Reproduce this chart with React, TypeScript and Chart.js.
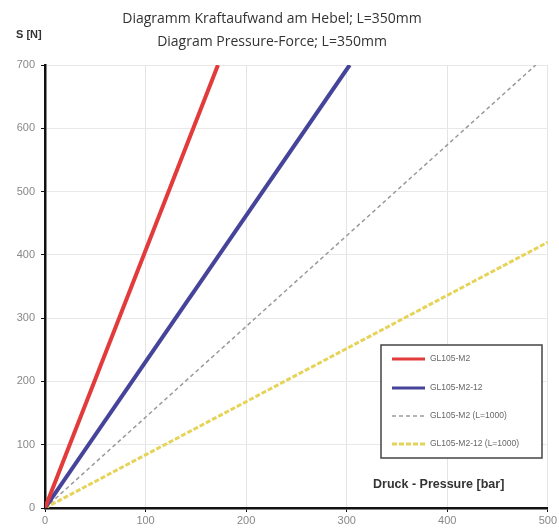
import React, { useEffect, useRef } from "react";
import { Chart, registerables } from "chart.js";

Chart.register(...registerables);

const titleLines = ["Diagramm Kraftaufwand am Hebel; L=350mm", "Diagram Pressure-Force; L=350mm"];
const yAxisTitle = "S [N]";
const xAxisTitle = "Druck - Pressure [bar]";
const seriesNames = ["GL105-M2", "GL105-M2-12", "GL105-M2 (L=1000)", "GL105-M2-12 (L=1000)"];
const redPoints = [{ x: 0, y: 0 }, { x: 172, y: 700 }];
const bluePoints = [{ x: 0, y: 0 }, { x: 303, y: 700 }];
const grayPoints = [{ x: 0, y: 0 }, { x: 488, y: 700 }];
const yellowPoints = [{ x: 0, y: 0 }, { x: 500, y: 420 }];
const xTicks = [0, 100, 200, 300, 400, 500];
const yTicks = [0, 100, 200, 300, 400, 500, 600, 700];

const overlay = {
  id: "overlay",
  afterDraw(chart: any) {
    const ctx = chart.ctx;
    ctx.save();
    ctx.fillStyle = "#333";
    ctx.textAlign = "center";
    ctx.textBaseline = "middle";
    ctx.font = "14px 'Open Sans'";
    ctx.fillText(titleLines[0], 272, 19);
    ctx.fillText(titleLines[1], 272, 42);
    ctx.textAlign = "left";
    ctx.font = "bold 11px 'Liberation Sans'";
    ctx.fillText(yAxisTitle, 16, 35);
    ctx.font = "bold 12.5px 'Liberation Sans'";
    ctx.fillText(xAxisTitle, 373, 485);

    // legend
    const bx = 381, by = 345, bw = 161, bh = 113;
    ctx.fillStyle = "#fff";
    ctx.fillRect(bx, by, bw, bh);
    ctx.strokeStyle = "#444";
    ctx.lineWidth = 1.5;
    ctx.strokeRect(bx, by, bw, bh);
    const rows = [359, 388, 416, 444];
    chart.data.datasets.forEach((ds: any, i: number) => {
      ctx.beginPath();
      ctx.strokeStyle = ds.borderColor;
      ctx.lineWidth = Math.min(ds.borderWidth, 3);
      ctx.setLineDash(ds.borderDash || []);
      ctx.moveTo(392, rows[i]);
      ctx.lineTo(425, rows[i]);
      ctx.stroke();
      ctx.setLineDash([]);
      ctx.fillStyle = "#666";
      ctx.font = "8.5px 'Liberation Sans'";
      ctx.textAlign = "left";
      ctx.fillText(ds.label, 430, rows[i]);
    });
    ctx.restore();
  },
};

export default function App() {
  const ref = useRef<HTMLCanvasElement>(null);
  useEffect(() => {
    const chart = new Chart(ref.current!, {
      type: "line",
      data: {
        datasets: [
          { label: seriesNames[0], data: redPoints, borderColor: "#e23b3b", borderWidth: 4, pointRadius: 0 },
          { label: seriesNames[1], data: bluePoints, borderColor: "#45449a", borderWidth: 4, pointRadius: 0 },
          { label: seriesNames[2], data: grayPoints, borderColor: "#9a9a9a", borderWidth: 1.5, borderDash: [4, 3], pointRadius: 0 },
          { label: seriesNames[3], data: yellowPoints, borderColor: "#e6d45a", borderWidth: 3, borderDash: [5, 2], pointRadius: 0 },
        ],
      },
      options: {
        animation: false,
        responsive: false,
        layout: { padding: { top: 65, right: 11, left: 0, bottom: 0 } },
        plugins: { legend: { display: false }, tooltip: { enabled: false } },
        scales: {
          x: {
            type: "linear",
            min: 0,
            max: 500,
            afterBuildTicks: (s: any) => { s.ticks = xTicks.map((v) => ({ value: v })); },
            afterFit: (s: any) => { s.height = 23; },
            grid: { color: "#e4e4e4", lineWidth: 1, tickLength: 4, tickColor: "#111", drawTicks: true },
            border: { color: "#111", width: 2.5 },
            ticks: { color: "#888", font: { size: 11, family: "'Liberation Sans'" }, padding: 2, maxRotation: 0 },
          },
          y: {
            min: 0,
            max: 700,
            afterBuildTicks: (s: any) => { s.ticks = yTicks.map((v) => ({ value: v })); },
            afterFit: (s: any) => { s.width = 45; },
            grid: { color: "#e8e8e8", lineWidth: 1, tickLength: 4, tickColor: "#111" },
            border: { color: "#111", width: 2.5 },
            ticks: { color: "#888", font: { size: 11, family: "'Liberation Sans'" }, padding: 6 },
          },
        },
      },
      plugins: [overlay],
    });
    return () => chart.destroy();
  }, []);
  return (
    <div style={{ position: "fixed", left: 0, top: 0, width: 559, height: 531, background: "#fff" }}>
      <canvas ref={ref} width={559} height={531} />
    </div>
  );
}
